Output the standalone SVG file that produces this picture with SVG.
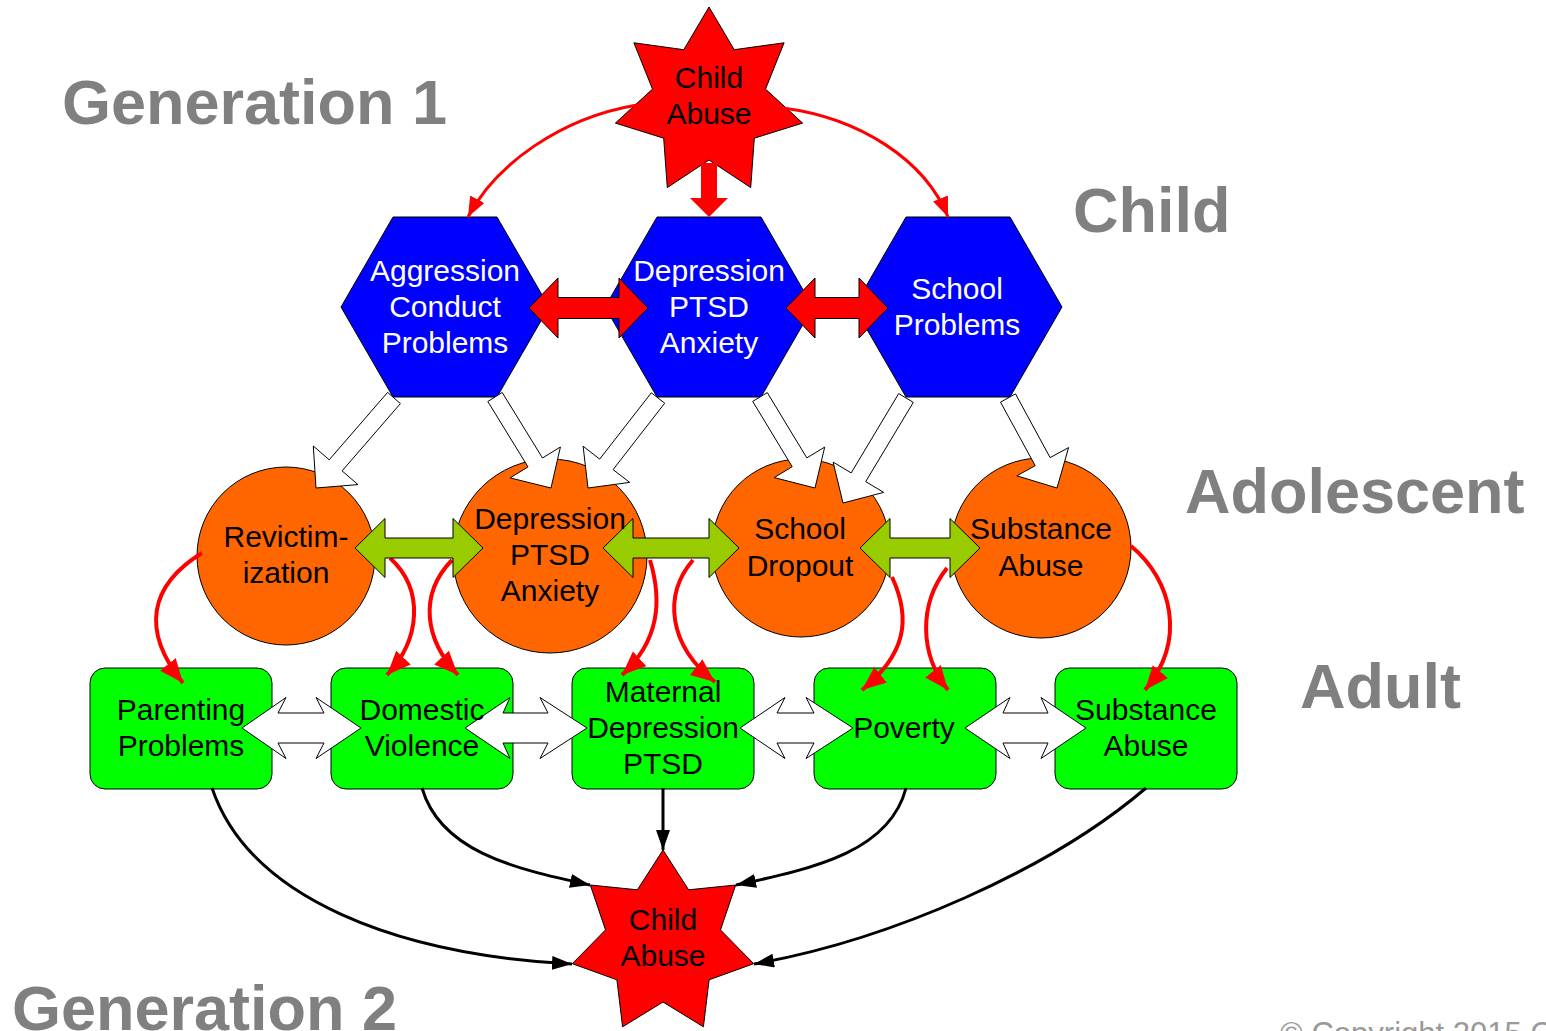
<svg xmlns="http://www.w3.org/2000/svg" width="1546" height="1031" viewBox="0 0 1546 1031">
<style>
.bg{fill:#ffffff}
.head{font-family:"Liberation Sans",Arial,sans-serif;font-weight:bold;fill:#808080;font-size:63px}
.lbl{font-family:"Liberation Sans",Arial,sans-serif;font-size:30px;text-anchor:middle;fill:#000}
.wl{fill:#ffffff}
.star{fill:#ff0000;stroke:#000;stroke-width:1}
.hex{fill:#0000ff;stroke:#000;stroke-width:1}
.circ{fill:#ff6600;stroke:#000;stroke-width:1}
.box{fill:#00ff00;stroke:#000;stroke-width:1}
.redc{fill:none;stroke:#ff0000;stroke-width:3;marker-end:url(#mr)}
.redc4{fill:none;stroke:#ff0000;stroke-width:4;marker-end:url(#mr2)}
.blkc{fill:none;stroke:#000;stroke-width:3;marker-end:url(#mb)}
.redblk{fill:#ff0000;stroke:#000;stroke-width:1}
.grnblk{fill:#99cc00;stroke:#000;stroke-width:1}
.whtblk{fill:#ffffff;stroke:#000;stroke-width:1}
</style>
<defs>
<marker id="mr" markerUnits="userSpaceOnUse" markerWidth="22" markerHeight="18" refX="20" refY="8" orient="auto"><path d="M0,0 L20,8 L0,16 z" fill="#ff0000"/></marker>
<marker id="mr2" markerUnits="userSpaceOnUse" markerWidth="26" markerHeight="22" refX="24" refY="10" orient="auto"><path d="M0,0 L24,10 L0,20 z" fill="#ff0000"/></marker>
<marker id="mb" markerUnits="userSpaceOnUse" markerWidth="22" markerHeight="16" refX="20" refY="7" orient="auto"><path d="M0,0 L20,7 L0,14 z" fill="#000"/></marker>
</defs>
<rect class="bg" x="0" y="0" width="1546" height="1031"/>

<g id="headings">
<text class="head" x="62" y="124">Generation 1</text>
<text class="head" x="1073" y="232">Child</text>
<text class="head" x="1185" y="513">Adolescent</text>
<text class="head" x="1300" y="708">Adult</text>
<text class="head" x="12" y="1030">Generation 2</text>
<text x="1280" y="1044" font-family="Liberation Sans, Arial, sans-serif" font-size="31" fill="#999999">© Copyright 2015 C</text>
</g>

<g id="node-shapes">
<g id="n-childabuse1"><polygon class="star" points="709,7 734.2,49.7 784.1,42.8 765.5,89.1 802.6,123.1 754.3,138.2 750.7,187.6 709,160 667.3,187.6 663.7,138.2 615.4,123.1 652.5,89.1 633.9,42.8 683.8,49.7"/></g>
<g id="n-aggression"><polygon class="hex" points="341,307 393,217 497,217 549,307 497,397 393,397"/></g>
<g id="n-depression-child"><polygon class="hex" points="605,307 657,217 761,217 813,307 761,397 657,397"/></g>
<g id="n-school-problems"><polygon class="hex" points="854,307 906,217 1010,217 1062,307 1010,397 906,397"/></g>
<g id="n-revictimization"><circle class="circ" cx="286" cy="556" r="89"/></g>
<g id="n-depression-adol"><circle class="circ" cx="550" cy="556" r="97"/></g>
<g id="n-school-dropout"><circle class="circ" cx="801" cy="548" r="89"/></g>
<g id="n-substance-adol"><circle class="circ" cx="1041" cy="548" r="90"/></g>
<g id="n-parenting"><rect class="box" x="90" y="668" width="182" height="121" rx="15"/></g>
<g id="n-domestic"><rect class="box" x="331" y="668" width="182" height="121" rx="15"/></g>
<g id="n-maternal"><rect class="box" x="572" y="668" width="182" height="121" rx="15"/></g>
<g id="n-poverty"><rect class="box" x="814" y="668" width="182" height="121" rx="15"/></g>
<g id="n-substance-adult"><rect class="box" x="1055" y="668" width="182" height="121" rx="15"/></g>
<g id="n-childabuse2"><polygon class="star" points="663,850 688.6,889.8 735.7,885 720.5,929.9 753.7,963.7 709.1,979.8 703.4,1026.8 663,1002 622.6,1026.8 616.9,979.8 572.3,963.7 605.5,929.9 590.3,885 637.4,889.8"/></g>
</g>

<g id="connectors">
<path class="redc" d="M637,105 C560,118 495,165 468,217"/>
<path class="redc" d="M783,108 C860,118 925,160 948,217"/>
<polygon fill="#ff0000" points="701,163 717,163 717,198 728,198 709,217 690,198 701,198"/>
<path class="redc4" d="M202,553 C150,585 140,630 183,683"/>
<path class="redc4" d="M390,558 C425,590 420,640 387,675"/>
<path class="redc4" d="M452,560 C418,595 425,640 458,675"/>
<path class="redc4" d="M650,560 C662,600 660,640 622,675"/>
<path class="redc4" d="M693,560 C663,595 668,645 715,682"/>
<path class="redc4" d="M892,577 C912,620 905,655 862,690"/>
<path class="redc4" d="M947,568 C918,605 920,655 948,690"/>
<path class="redc4" d="M1131,546 C1172,580 1187,640 1145,690"/>
<path class="blkc" d="M212,788 C250,900 400,955 572,964"/>
<path class="blkc" d="M422,788 C440,850 510,868 590,885"/>
<path class="blkc" d="M663,788 L663,850"/>
<path class="blkc" d="M906,788 C890,850 818,868 736,885"/>
<path class="blkc" d="M1146,788 C1050,870 890,940 754,964"/>
<polygon class="redblk" points="529,308 558,278 558,297.5 619,297.5 619,278 648,308 619,338 619,318.5 558,318.5 558,338"/>
<polygon class="redblk" points="786,308 815,278 815,297.5 859,297.5 859,278 888,308 859,338 859,318.5 815,318.5 815,338"/>
<polygon class="whtblk" points="400.4,403.6 342.1,470.9 358,484.6 316,488 313.3,446 329.2,459.8 387.6,392.4"/>
<polygon class="whtblk" points="487.8,401.5 528,466.9 510.1,477.9 551,488 560.4,447 542.5,458 502.2,392.5"/>
<polygon class="whtblk" points="651.3,392.8 599.7,459.1 583.1,446.2 588,488 629.7,482.4 613.1,469.6 664.7,403.2"/>
<polygon class="whtblk" points="752.7,401.4 792.2,466.7 774.2,477.6 815,488 824.7,447.1 806.8,457.9 767.3,392.6"/>
<polygon class="whtblk" points="898.7,393.6 851.2,472.9 833.1,462.1 843,503 883.7,492.4 865.7,481.6 913.3,402.4"/>
<polygon class="whtblk" points="1000.5,402.1 1035.2,465.7 1016.8,475.8 1057,488 1068.6,447.6 1050.1,457.6 1015.5,393.9"/>
<polygon class="grnblk" points="355,548 385,518.5 385,538 453,538 453,518.5 483,548 453,577.5 453,558 385,558 385,577.5"/>
<polygon class="grnblk" points="603,548 633,518.5 633,538 709,538 709,518.5 739,548 709,577.5 709,558 633,558 633,577.5"/>
<polygon class="grnblk" points="860,548 890,518.5 890,538 950,538 950,518.5 980,548 950,577.5 950,558 890,558 890,577.5"/>
<polygon class="whtblk" points="242,728 286,697.5 278,713 324,713 316,697.5 361,728 316,758.5 324,743 278,743 286,758.5"/>
<polygon class="whtblk" points="465,728 510,697.5 503,713 548,713 540,697.5 587,728 540,758.5 548,743 503,743 510,758.5"/>
<polygon class="whtblk" points="740,728 785,697.5 777,713 814,713 806,697.5 853,728 806,758.5 814,743 777,743 785,758.5"/>
<polygon class="whtblk" points="965,728 1010,697.5 1003,713 1048,713 1041,697.5 1086,728 1041,758.5 1048,743 1003,743 1010,758.5"/>
</g>

<g id="node-labels">
<g id="n-childabuse1-label"><text class="lbl" x="709" y="88">Child</text><text class="lbl" x="709" y="124">Abuse</text></g>
<g id="n-aggression-label"><text class="lbl wl" x="445" y="281">Aggression</text><text class="lbl wl" x="445" y="317">Conduct</text><text class="lbl wl" x="445" y="353">Problems</text></g>
<g id="n-depression-child-label"><text class="lbl wl" x="709" y="281">Depression</text><text class="lbl wl" x="709" y="317">PTSD</text><text class="lbl wl" x="709" y="353">Anxiety</text></g>
<g id="n-school-problems-label"><text class="lbl wl" x="957" y="299">School</text><text class="lbl wl" x="957" y="335">Problems</text></g>
<g id="n-revictimization-label"><text class="lbl" x="286" y="547">Revictim-</text><text class="lbl" x="286" y="583">ization</text></g>
<g id="n-depression-adol-label"><text class="lbl" x="550" y="529">Depression</text><text class="lbl" x="550" y="565">PTSD</text><text class="lbl" x="550" y="601">Anxiety</text></g>
<g id="n-school-dropout-label"><text class="lbl" x="800" y="539">School</text><text class="lbl" x="800" y="576">Dropout</text></g>
<g id="n-substance-adol-label"><text class="lbl" x="1041" y="539">Substance</text><text class="lbl" x="1041" y="576">Abuse</text></g>
<g id="n-parenting-label"><text class="lbl" x="181" y="720">Parenting</text><text class="lbl" x="181" y="756">Problems</text></g>
<g id="n-domestic-label"><text class="lbl" x="422" y="720">Domestic</text><text class="lbl" x="422" y="756">Violence</text></g>
<g id="n-maternal-label"><text class="lbl" x="663" y="702">Maternal</text><text class="lbl" x="663" y="738">Depression</text><text class="lbl" x="663" y="774">PTSD</text></g>
<g id="n-poverty-label"><text class="lbl" x="904" y="738">Poverty</text></g>
<g id="n-substance-adult-label"><text class="lbl" x="1146" y="720">Substance</text><text class="lbl" x="1146" y="756">Abuse</text></g>
<g id="n-childabuse2-label"><text class="lbl" x="663" y="930">Child</text><text class="lbl" x="663" y="966">Abuse</text></g>
</g>
</svg>
